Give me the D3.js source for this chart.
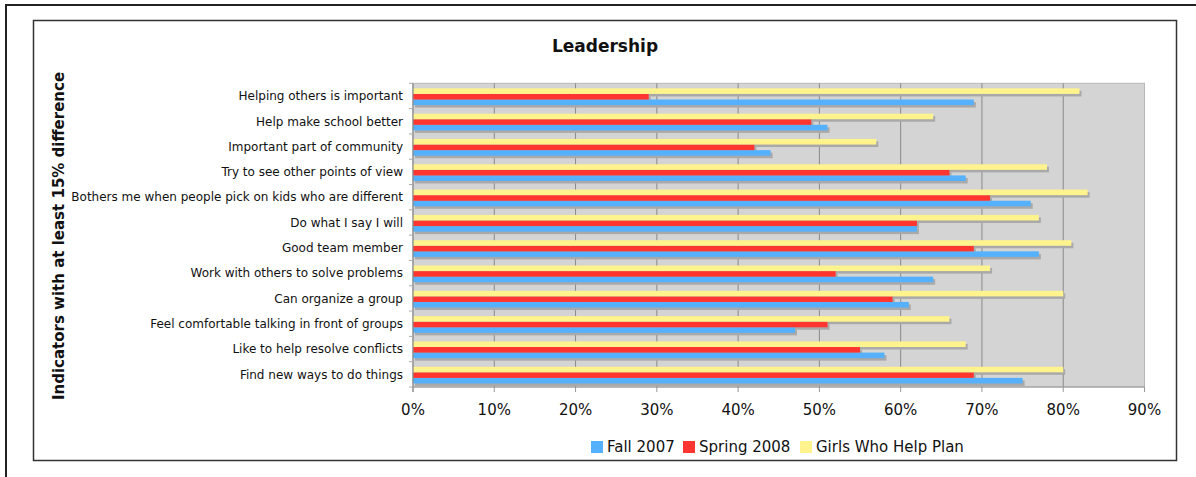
<!DOCTYPE html>
<html>
<head>
<meta charset="utf-8">
<script src="https://cdn.jsdelivr.net/npm/d3@7"></script>
<style>
  html, body { margin: 0; padding: 0; background: #fff; }
  svg { display: block; }
  text { font-family: "DejaVu Sans", Verdana, sans-serif; fill: #111; }
</style>
</head>
<body>
<svg id="chart" width="1196" height="477"></svg>
<script>
const categories = [
  "Helping others is important",
  "Help make school better",
  "Important part of community",
  "Try to see other points of view",
  "Bothers me when people pick on kids who are different",
  "Do what I say I will",
  "Good team member",
  "Work with others to solve problems",
  "Can organize a group",
  "Feel comfortable talking in front of groups",
  "Like to help resolve conflicts",
  "Find new ways to do things"
];
const seriesNames = ["Fall 2007", "Spring 2008", "Girls Who Help Plan"];
const fall2007   = [69, 51, 44, 68, 76, 62, 77, 64, 61, 47, 58, 75];
const spring2008 = [29, 49, 42, 66, 71, 62, 69, 52, 59, 51, 55, 69];
const girlsPlan  = [82, 64, 57, 78, 83, 77, 81, 71, 80, 66, 68, 80];
const seriesValues = [fall2007, spring2008, girlsPlan];
const seriesColors = ["#55b1fd", "#ff3630", "#fff38e"];
const xTicks = [0, 10, 20, 30, 40, 50, 60, 70, 80, 90];
const title = "Leadership";
const yTitle = "Indicators with at least 15% difference";

const svg = d3.select("#chart");

// outer frame
svg.append("rect").attr("x", 6).attr("y", 5).attr("width", 1300).attr("height", 600)
  .attr("fill", "none").attr("stroke", "#222").attr("stroke-width", 2);
// inner frame
svg.append("rect").attr("x", 33.5).attr("y", 20.5).attr("width", 1143).attr("height", 440)
  .attr("fill", "#fff").attr("stroke", "#333").attr("stroke-width", 1.5);

const L = 413, R = 1144.5, T = 83.3, B = 387;
const x = d3.scaleLinear().domain([0, 90]).range([L, R]);
const y0 = d3.scaleBand().domain(categories).range([T, B]).padding(0);
const step = y0.step();
const y1 = d3.scaleBand().domain(seriesNames.slice().reverse())
  .range([step * 0.2, step * 0.86]).padding(0);

// plot background
svg.append("rect").attr("x", L).attr("y", T).attr("width", R - L).attr("height", B - T)
  .attr("fill", "#d4d4d4").attr("stroke", "#b8b8b8").attr("stroke-width", 1);

// gridlines
svg.append("g").selectAll("line").data(xTicks.filter(t => t > 0 && t < 90)).join("line")
  .attr("x1", d => x(d)).attr("x2", d => x(d)).attr("y1", T).attr("y2", B)
  .attr("stroke", "#8a8a8a").attr("stroke-width", 1);

// data
const rows = [];
categories.forEach((c, i) => {
  seriesNames.forEach((s, j) => rows.push({ c, s, v: seriesValues[j][i], color: seriesColors[j] }));
});

// shadows
svg.append("g").selectAll("rect").data(rows).join("rect")
  .attr("x", x(0) + 2)
  .attr("y", d => y0(d.c) + y1(d.s) + 2.5)
  .attr("width", d => x(d.v) - x(0))
  .attr("height", y1.bandwidth())
  .attr("fill", "#a9a9a9");

// bars
svg.append("g").selectAll("rect").data(rows).join("rect")
  .attr("x", x(0))
  .attr("y", d => y0(d.c) + y1(d.s))
  .attr("width", d => x(d.v) - x(0))
  .attr("height", y1.bandwidth())
  .attr("fill", d => d.color);

// left axis line
svg.append("line").attr("x1", L).attr("x2", L).attr("y1", T).attr("y2", B + 5)
  .attr("stroke", "#888").attr("stroke-width", 1.2);
// left ticks at category boundaries
svg.append("g").selectAll("line").data(d3.range(categories.length + 1)).join("line")
  .attr("x1", L - 4).attr("x2", L)
  .attr("y1", i => T + i * step).attr("y2", i => T + i * step)
  .attr("stroke", "#aaa");

// bottom axis line + ticks
svg.append("line").attr("x1", L).attr("x2", R).attr("y1", B).attr("y2", B)
  .attr("stroke", "#999").attr("stroke-width", 1.2);
svg.append("g").selectAll("line").data(xTicks).join("line")
  .attr("x1", d => x(d)).attr("x2", d => x(d)).attr("y1", B).attr("y2", B + 5)
  .attr("stroke", "#999");
svg.append("g").selectAll("text").data(xTicks).join("text")
  .attr("x", d => x(d)).attr("y", 415)
  .attr("text-anchor", "middle").attr("font-size", 15)
  .text(d => d + "%");

// category labels
svg.append("g").selectAll("text").data(categories).join("text")
  .attr("x", 403).attr("y", d => y0(d) + step * 0.53)
  .attr("text-anchor", "end").attr("dominant-baseline", "middle").attr("font-size", 12)
  .text(d => d);

// title
svg.append("text").attr("x", 605).attr("y", 52).attr("text-anchor", "middle")
  .attr("font-size", 17).attr("font-weight", "bold").text(title);

// y axis title
svg.append("text").attr("transform", "translate(64,236) rotate(-90)")
  .attr("text-anchor", "middle").attr("font-size", 15).attr("font-weight", "bold")
  .text(yTitle);

// legend
const legendX = [591, 683, 800];
const lg = svg.append("g");
seriesNames.forEach((s, j) => {
  lg.append("rect").attr("x", legendX[j]).attr("y", 441).attr("width", 12).attr("height", 12)
    .attr("fill", seriesColors[j]);
  lg.append("text").attr("x", legendX[j] + 16).attr("y", 452).attr("font-size", 15).text(s);
});
</script>
</body>
</html>
